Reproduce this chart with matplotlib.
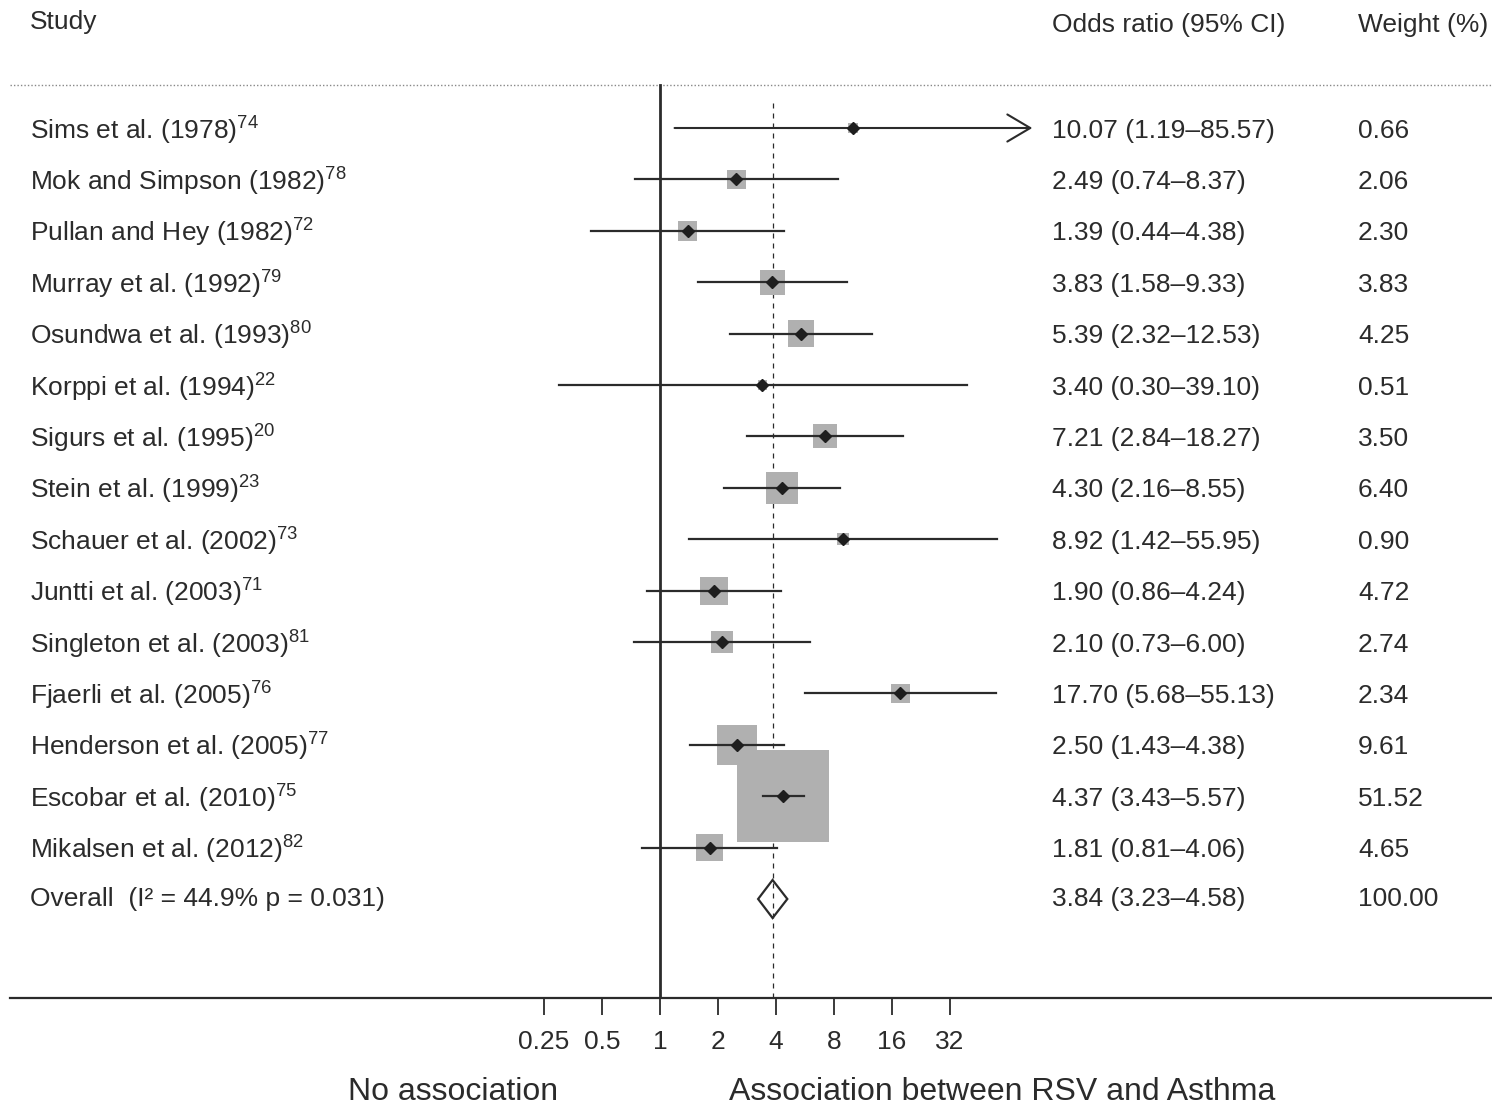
#forest plot: RSV bronchiolitis and later asthma
import numpy as np
import matplotlib
matplotlib.use("Agg")
import matplotlib.pyplot as plt
from matplotlib.patches import Polygon
from matplotlib.transforms import blended_transform_factory

plt.rcParams['font.family'] = ['Liberation Sans', 'DejaVu Sans']
plt.rcParams['mathtext.fontset'] = 'custom'
plt.rcParams['mathtext.rm'] = 'Liberation Sans'
plt.rcParams['mathtext.default'] = 'regular'

# study data
studies = ["Sims et al. (1978)", "Mok and Simpson (1982)", "Pullan and Hey (1982)",
           "Murray et al. (1992)", "Osundwa et al. (1993)", "Korppi et al. (1994)",
           "Sigurs et al. (1995)", "Stein et al. (1999)", "Schauer et al. (2002)",
           "Juntti et al. (2003)", "Singleton et al. (2003)", "Fjaerli et al. (2005)",
           "Henderson et al. (2005)", "Escobar et al. (2010)", "Mikalsen et al. (2012)"]
refs = ["74", "78", "72", "79", "80", "22", "20", "23", "73", "71", "81", "76", "77", "75", "82"]
odds = [10.07, 2.49, 1.39, 3.83, 5.39, 3.40, 7.21, 4.30, 8.92, 1.90, 2.10, 17.70, 2.50, 4.37, 1.81]
lower = [1.19, 0.74, 0.44, 1.58, 2.32, 0.30, 2.84, 2.16, 1.42, 0.86, 0.73, 5.68, 1.43, 3.43, 0.81]
upper = [85.57, 8.37, 4.38, 9.33, 12.53, 39.10, 18.27, 8.55, 55.95, 4.24, 6.00, 55.13, 4.38, 5.57, 4.06]
weights = [0.66, 2.06, 2.30, 3.83, 4.25, 0.51, 3.50, 6.40, 0.90, 4.72, 2.74, 2.34, 9.61, 51.52, 4.65]

overall_label = "Overall  (I\u00b2 = 44.9% p = 0.031)"
overall_or = 3.84
overall_lo = 3.23
overall_hi = 4.58
overall_w = 100.00

tick_vals = [0.25, 0.5, 1, 2, 4, 8, 16, 32]
tick_labels = ["0.25", "0.5", "1", "2", "4", "8", "16", "32"]

W, H = 1492, 1110
fig = plt.figure(figsize=(W / 100, H / 100), dpi=100)

# axes: left edge at px 10, bottom spine at px 998
x0_px = 660.0   # position of OR = 1
per_dbl = 58.0  # px per doubling
row0_px = 128.0
row_h = 51.4
ax = fig.add_axes([10 / W, 1 - 998 / H, (W - 10) / W, 998 / H])
ax.set_xscale('log', base=2)
ax.set_xlim(2 ** ((10 - x0_px) / per_dbl), 2 ** ((W - x0_px) / per_dbl))
ax.set_ylim((998 - row0_px) / row_h, -row0_px / row_h)

ink = '#2b2b2b'
for s in ['top', 'left', 'right']:
    ax.spines[s].set_visible(False)
ax.spines['bottom'].set_color(ink)
ax.spines['bottom'].set_linewidth(1.6)
ax.set_yticks([])
ax.set_xticks(tick_vals)
ax.set_xticklabels(tick_labels)
ax.minorticks_off()
ax.tick_params(axis='x', direction='out', length=12, width=1.3, color=ink,
               labelsize=19, labelcolor=ink, pad=11)

n = len(studies)
ys = np.arange(n)
y_over = n

# header dotted line
y_head = (85 - row0_px) / row_h
ax.axhline(y_head, color='#888888', ls=(0, (1, 1.5)), lw=1)

# line of no effect and overall
ax.axvline(1, ymin=0, ymax=(998 - 85) / 998, color=ink, lw=2)
ax.axvline(overall_or, ymin=0, ymax=(998 - 98) / 998, color=ink, lw=0.9, ls=(0, (4, 4)))

# weight boxes
side_px = 92 * np.sqrt(np.array(weights) / max(weights))
ax.scatter(odds, ys, s=(side_px * 0.72) ** 2, marker='s', color='#b0b0b0', lw=0, zorder=2)

# confidence intervals
for i in range(n):
    if i == 0:
        ax.annotate('', xy=(upper[i], ys[i]), xytext=(lower[i], ys[i]),
                    arrowprops=dict(arrowstyle='->,head_length=1.1,head_width=0.65',
                                    color=ink, lw=1.5, mutation_scale=15,
                                    shrinkA=0, shrinkB=0), zorder=3)
    else:
        ax.plot([lower[i], upper[i]], [ys[i], ys[i]], color=ink, lw=1.6, zorder=3)
ax.plot(odds, ys, 'D', color='#1e1e1e', ms=6.2, zorder=4)

# overall diamond
dh = 0.37
diamond = Polygon([(overall_lo, y_over), (overall_or, y_over - dh),
                   (overall_hi, y_over), (overall_or, y_over + dh)],
                  closed=True, facecolor='none', edgecolor=ink, lw=1.6, zorder=4)
ax.add_patch(diamond)

# text columns
tr = blended_transform_factory(fig.transFigure, ax.transData)
fs = 19
for i in range(n):
    ax.text(30 / W, ys[i] + 0.05, studies[i] + "$^{" + refs[i] + "}$", transform=tr,
            ha='left', va='center', fontsize=fs, color=ink)
    ax.text(1052 / W, ys[i] + 0.05, f"{odds[i]:.2f} ({lower[i]:.2f}\u2013{upper[i]:.2f})",
            transform=tr, ha='left', va='center', fontsize=fs, color=ink)
    ax.text(1358 / W, ys[i] + 0.05, f"{weights[i]:.2f}", transform=tr,
            ha='left', va='center', fontsize=fs, color=ink)
ax.text(30 / W, y_over, overall_label, transform=tr, ha='left', va='center', fontsize=fs, color=ink)
ax.text(1052 / W, y_over, f"{overall_or:.2f} ({overall_lo:.2f}\u2013{overall_hi:.2f})",
        transform=tr, ha='left', va='center', fontsize=fs, color=ink)
ax.text(1358 / W, y_over, f"{overall_w:.2f}", transform=tr, ha='left', va='center',
        fontsize=fs, color=ink)

# headers
fig.text(30 / W, 1 - 22 / H, "Study", ha='left', va='center', fontsize=fs, color=ink)
fig.text(1052 / W, 1 - 25 / H, "Odds ratio (95% CI)", ha='left', va='center', fontsize=fs, color=ink)
fig.text(1358 / W, 1 - 25 / H, "Weight (%)", ha='left', va='center', fontsize=fs, color=ink)

# bottom captions
fig.text(453 / W, 1 - 1092 / H, "No association", ha='center', va='center', fontsize=23, color=ink)
fig.text(1002 / W, 1 - 1092 / H, "Association between RSV and Asthma", ha='center', va='center',
         fontsize=23, color=ink)

fig.savefig("out.png", dpi=100)
